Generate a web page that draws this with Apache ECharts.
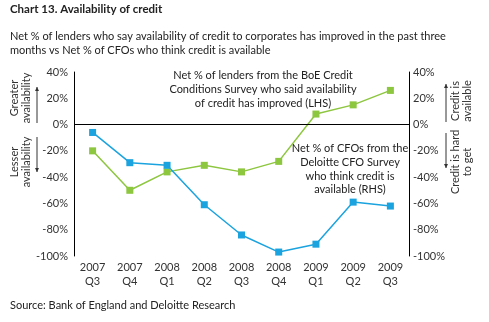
<!DOCTYPE html>
<html><head><meta charset="utf-8">
<script src="https://cdn.jsdelivr.net/npm/echarts@6/dist/echarts.min.js"></script>
<style>html,body{margin:0;padding:0;background:#fff}#c{width:489px;height:322px}</style>
</head><body><div id="c"></div>
<script>
var categories = ['2007\nQ3','2007\nQ4','2008\nQ1','2008\nQ2','2008\nQ3','2008\nQ4','2009\nQ1','2009\nQ2','2009\nQ3'];
var lenders = [-20, -50, -36, -31, -36, -28, 8, 15, 26];
var cfos = [-6, -29, -31, -61, -84, -97, -91, -59, -62];
var FONT = 'Lato';
var chart = echarts.init(document.getElementById('c'));
function vtext(x, y, txt){
  return {type:'text', x:x, y:y, rotation:Math.PI/2, style:{text:txt, fontFamily:FONT, fontSize:11, fill:'#333', align:'center', verticalAlign:'middle', lineHeight:12}};
}
function arrow(x, y1, y2){
  var up = y2 < y1;
  return {type:'group', children:[
    {type:'line', shape:{x1:x, y1:y1, x2:x, y2:y2}, style:{stroke:'#333', lineWidth:1}},
    {type:'polygon', shape:{points: up ? [[x-2,y2+4],[x+2,y2+4],[x,y2]] : [[x-2,y2-4],[x+2,y2-4],[x,y2]]}, style:{fill:'#333'}}
  ]};
}
chart.setOption({
  animation:false,
  textStyle:{fontFamily:FONT},
  grid:{left:74, right:80, top:72, bottom:66},
  xAxis:{type:'category', data:categories, boundaryGap:true,
    axisLine:{show:false}, axisTick:{show:false},
    axisLabel:{color:'#333', fontSize:11, lineHeight:14, margin:4, fontFamily:FONT}},
  yAxis:[
    {type:'value', min:-100, max:40, interval:20, position:'left',
      axisLine:{show:true, lineStyle:{color:'#000'}}, axisTick:{show:false}, splitLine:{show:false},
      axisLabel:{formatter:'{value}%', color:'#333', fontSize:11, margin:6, fontFamily:FONT}},
    {type:'value', min:-100, max:40, interval:20, position:'right',
      axisLine:{show:true, lineStyle:{color:'#000'}}, axisTick:{show:false}, splitLine:{show:false},
      axisLabel:{formatter:'{value}%', color:'#333', fontSize:11, margin:4, fontFamily:FONT}}
  ],
  series:[
    {name:'Lenders', type:'line', yAxisIndex:0, data:lenders, symbol:'rect', symbolSize:7,
      lineStyle:{color:'#8dc63f', width:1.5}, itemStyle:{color:'#8dc63f'},
      markLine:{silent:true, symbol:'none', label:{show:false}, lineStyle:{color:'#000', type:'solid', width:1}, data:[{yAxis:0}]}},
    {name:'CFOs', type:'line', yAxisIndex:1, data:cfos, symbol:'rect', symbolSize:7,
      lineStyle:{color:'#1aa3de', width:1.5}, itemStyle:{color:'#1aa3de'}}
  ],
  graphic:[
    {type:'text', x:10, y:3, style:{text:'Chart 13. Availability of credit', fontFamily:FONT, fontSize:11.5, fontWeight:'bold', fill:'#222'}},
    {type:'text', x:10, y:29, style:{text:'Net % of lenders who say availability of credit to corporates has improved in the past three\nmonths vs Net % of CFOs who think credit is available', fontFamily:FONT, fontSize:11, lineHeight:14.5, fill:'#222'}},
    {type:'text', x:10, y:300, style:{text:'Source: Bank of England and Deloitte Research', fontFamily:FONT, fontSize:11, fill:'#222'}},
    {type:'text', x:263, y:68, style:{text:'Net % of lenders from the BoE Credit\nConditions Survey who said availability\nof credit has improved (LHS)', fontFamily:FONT, fontSize:11, lineHeight:14.2, fill:'#222', align:'center'}},
    {type:'text', x:350, y:142, style:{text:'Net % of CFOs from the\nDeloitte CFO Survey\nwho think credit is\navailable (RHS)', fontFamily:FONT, fontSize:11, lineHeight:13.7, fill:'#222', align:'center'}},
    vtext(20, 98, 'Greater\navailability'),
    vtext(20, 162, 'Lesser\navailability'),
    vtext(461, 101, 'Credit is\navailable'),
    vtext(461, 162, 'Credit is hard\nto get'),
    arrow(37, 123, 87),
    arrow(37, 137, 172),
    arrow(446, 122, 84),
    arrow(446, 133, 168)
  ]
});
</script></body></html>
